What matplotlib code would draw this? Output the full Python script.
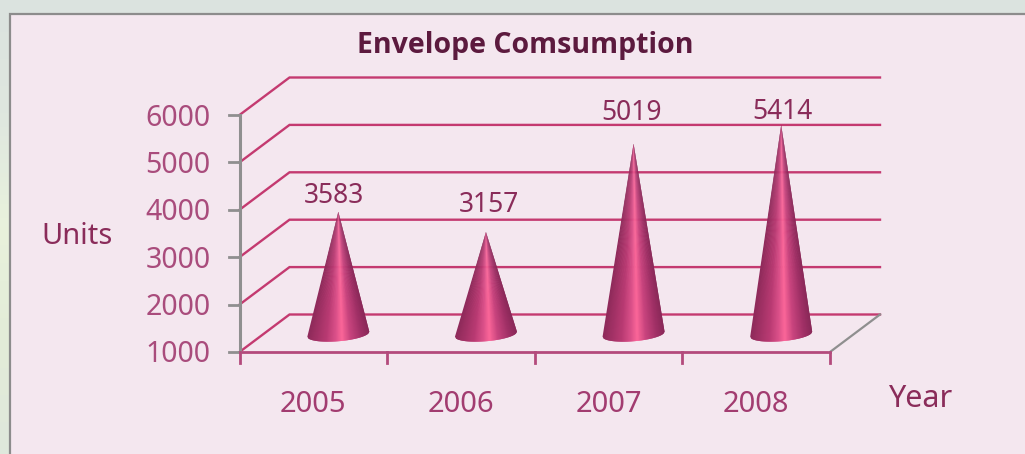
import numpy as np
import matplotlib.pyplot as plt
from matplotlib.colors import LinearSegmentedColormap
from matplotlib.patches import Rectangle

years = ['2005', '2006', '2007', '2008']
values = [3583, 3157, 5019, 5414]
y_ticks = [1000, 2000, 3000, 4000, 5000, 6000]

W, H = 1025, 454
# label offsets above cone tip, in pixels
label_dx = [-4, 3, -2, 1]
label_dy = [16, 27, 31, 13]

plt.rcParams['font.family'] = ['Noto Sans', 'DejaVu Sans']

fig = plt.figure(figsize=(W / 100, H / 100), dpi=100)

# backdrop behind the panel
bg = fig.add_axes([0, 0, 1, 1], zorder=-1)
bg.axis('off')
bg_cmap = LinearSegmentedColormap.from_list('bg', ['#dbe3df', '#dfe7e0', '#e9f2dc', '#e3ecd8', '#dfe8dc'])
bg.imshow(np.linspace(0, 1, 100).reshape(-1, 1), extent=[0, W, H, 0], aspect='auto', cmap=bg_cmap)
bg.add_patch(Rectangle((10, 14), W, H, fc='#f4e7ef', ec='#8c8c8c', lw=1.6))
bg.set_xlim(0, W)
bg.set_ylim(H, 0)

# plot box: front face of the 3d chart
left, right, base, top = 239.5, 830, 352, 115
ax = fig.add_axes([left / W, 1 - base / H, (right - left) / W, (base - top) / H])
ax.axis('off')
ax.set_xlim(0, len(years))
ax.set_ylim(y_ticks[0], y_ticks[-1])

px_x = len(years) / (right - left)
px_y = (y_ticks[-1] - y_ticks[0]) / (base - top)
depth_x = 50 * px_x
depth_y = 37.5 * px_y

line_c = '#c43a70'
grey = '#8f8f8f'

# wall lines with depth
for t in y_ticks:
    ax.plot([0, depth_x, 4 + depth_x], [t, t + depth_y, t + depth_y],
            color=line_c, lw=1.7, clip_on=False, zorder=1, solid_joinstyle='miter')
    ax.plot([-11 * px_x, 0], [t, t], color=grey, lw=2, clip_on=False, zorder=2)
    ax.text(-29 * px_x, t - 3 * px_y, str(t), color='#a94c7c', fontsize=20.5, ha='right', va='center')

# floor
ax.plot([0, 4], [1000, 1000], color='#b34a7c', lw=2, clip_on=False, zorder=2)
ax.plot([4, 4 + depth_x], [1000, 1000 + depth_y], color=grey, lw=1.6, clip_on=False, zorder=2)
ax.plot([0, 0], [1000, 6000], color=grey, lw=2.2, clip_on=False, zorder=2)
for i in range(len(years) + 1):
    ax.plot([i, i], [1000, 1000 - 11 * px_y], color='#b34a7c', lw=2, clip_on=False, zorder=2)

shade = LinearSegmentedColormap.from_list(
    'cone', [(0, '#8e2a5a'), (0.3, '#b83a72'), (0.45, '#d94f88'), (0.56, '#fb6699'),
             (0.7, '#c8447e'), (0.88, '#a03066'), (1, '#8a2858')])

half_w = 31 * px_x
half_h = 7 * px_y
tilt = 2.5 * px_y
for i, v in enumerate(values):
    cx = i + 0.5 + depth_x / 2
    tip = v + depth_y / 2 - px_y
    floor = 1000 + depth_y / 2 - px_y
    # cone as a fan of slices from the tip, each one overlapping the next to hide seams
    u = np.linspace(-1, 1, 62)
    s = np.sqrt(1 - u ** 2)
    ex = cx + half_w * u
    ey = floor - half_h * s + tilt * u
    for j in range(len(u) - 1):
        c = shade((u[j] + u[j + 1] + 2) / 4)
        k = min(j + 2, len(u) - 1)
        ax.fill([cx] + list(ex[j:k + 1]), [tip] + list(ey[j:k + 1]), fc=c, ec='none',
                zorder=3, clip_on=False)
    ax.text(cx + label_dx[i] * px_x, tip + label_dy[i] * px_y, str(v), color='#8a2c5a',
            fontsize=19, ha='center', va='center')
    ax.text(i + 0.5, 1000 - 53 * px_y, years[i], color='#a23c70', fontsize=21, ha='center', va='center')

fig.text(525 / W, 1 - 46 / H, 'Envelope Comsumption', color='#5c1a3e', fontsize=20.5,
         fontweight='bold', ha='center', va='center', family=['Open Sans', 'DejaVu Sans'])
fig.text(77 / W, 1 - 237 / H, 'Units', color='#8a2c5a', fontsize=21, ha='center', va='center')
fig.text(920 / W, 1 - 399 / H, 'Year', color='#8a2c5a', fontsize=22, ha='center', va='center')

fig.savefig('out.png', dpi=100)
